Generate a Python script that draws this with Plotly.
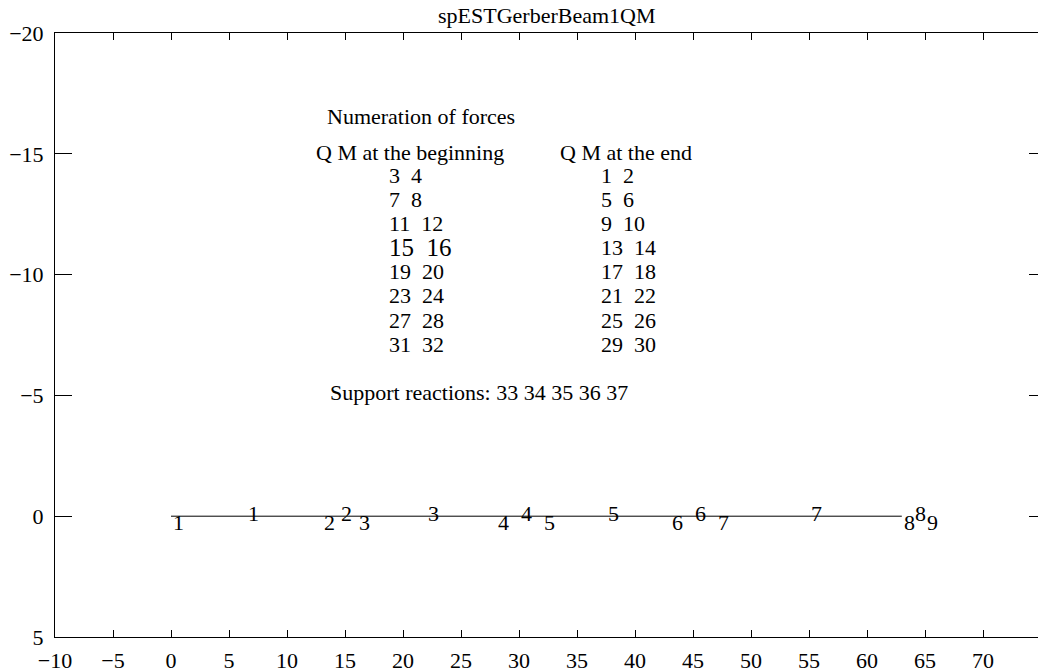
import plotly.graph_objects as go

# Beam geometry: node positions along the beam axis and element labels
node_x = [0, 13, 16, 28, 32, 43, 47, 63, 65]
node_labels = ["1", "2", "3", "4", "5", "6", "7", "8", "9"]
elem_x = [6.5, 14.5, 22, 30, 37.5, 45, 55, 64]
elem_labels = ["1", "2", "3", "4", "5", "6", "7", "8"]
beam_x = node_x[:8]
beam_y = [0] * len(beam_x)

# Force numbering table
begin_rows = ["3  4", "7  8", "11  12", "15  16", "19  20", "23  24", "27  28", "31  32"]
end_rows = ["1  2", "5  6", "9  10", "13  14", "17  18", "21  22", "25  26", "29  30"]
row_y = [-14, -13, -12, -11, -10, -9, -8, -7]
support_text = "Support reactions: 33 34 35 36 37"

x_ticks = [-10, -5, 0, 5, 10, 15, 20, 25, 30, 35, 40, 45, 50, 55, 60, 65, 70]
y_ticks = [-20, -15, -10, -5, 0, 5]

FONT = "Liberation Serif, Times New Roman, serif"
FS = 22


def nb(s):
    return s.replace(" ", "\u00a0")


fig = go.Figure()
fig.add_trace(go.Scatter(x=beam_x, y=beam_y, mode="lines",
                         line=dict(color="black", width=1),
                         hoverinfo="skip", showlegend=False))
# invisible trace so the right-hand tick axis is drawn
fig.add_trace(go.Scatter(x=[0], y=[0], yaxis="y2", mode="markers",
                         marker=dict(opacity=0), hoverinfo="skip",
                         showlegend=False))

ann = []
for x, t in zip(node_x, node_labels):
    ann.append(dict(x=x, y=0.27, text=t, xanchor="left", yanchor="middle"))
for x, t in zip(elem_x, elem_labels):
    ann.append(dict(x=x, y=-0.13, text=t, xanchor="left", yanchor="middle"))

ann.append(dict(x=13.3, y=-16.55, text="Numeration of forces",
                xanchor="left", yanchor="middle"))
ann.append(dict(x=12.3, y=-15.05, text=nb("Q M at the beginning"),
                xanchor="left", yanchor="middle"))
ann.append(dict(x=33.4, y=-15.05, text=nb("Q M at the end"),
                xanchor="left", yanchor="middle"))
for y, b, e in zip(row_y, begin_rows, end_rows):
    size = 25 if b.startswith("15") else FS
    ann.append(dict(x=18.6, y=y - 0.12, text=nb(b), xanchor="left",
                    yanchor="middle", font=dict(size=size)))
    ann.append(dict(x=36.9, y=y - 0.12, text=nb(e), xanchor="left",
                    yanchor="middle"))
ann.append(dict(x=13.5, y=-5.1, text=support_text,
                xanchor="left", yanchor="middle"))

for a in ann:
    a.setdefault("font", dict(size=FS))
    a["font"] = dict(family=FONT, color="black", **a["font"])
    a.update(xref="x", yref="y", showarrow=False)

ann.append(dict(xref="paper", yref="paper", x=0.5, y=1.0, yshift=18,
                text="spESTGerberBeam1QM", showarrow=False,
                xanchor="center", yanchor="middle",
                font=dict(family=FONT, size=FS, color="black")))

fig.update_layout(
    width=1038, height=672,
    margin=dict(l=55, r=0, t=33, b=35),
    paper_bgcolor="white", plot_bgcolor="white",
    font=dict(family=FONT, size=FS, color="black"),
    showlegend=False,
    annotations=ann,
    xaxis=dict(range=[-10, 74.74], tickvals=x_ticks, ticks="inside",
               ticklen=7, tickcolor="black", tickwidth=1,
               showline=True, linecolor="black", linewidth=1,
               mirror="ticks", showgrid=False, zeroline=False,
               ticklabelstandoff=4,
               tickfont=dict(family=FONT, size=FS)),
    yaxis=dict(range=[5, -20], tickvals=y_ticks, ticks="inside",
               ticklen=17, tickcolor="black", tickwidth=1,
               showline=True, linecolor="black", linewidth=1,
               showgrid=False, zeroline=False,
               ticklabelstandoff=6,
               tickfont=dict(family=FONT, size=FS)),
    yaxis2=dict(range=[5, -20], tickvals=y_ticks, ticks="inside",
                ticklen=9, tickcolor="black", tickwidth=1,
                overlaying="y", side="right", showline=False,
                showticklabels=False, showgrid=False, zeroline=False),
)

fig.write_html("out.html")
